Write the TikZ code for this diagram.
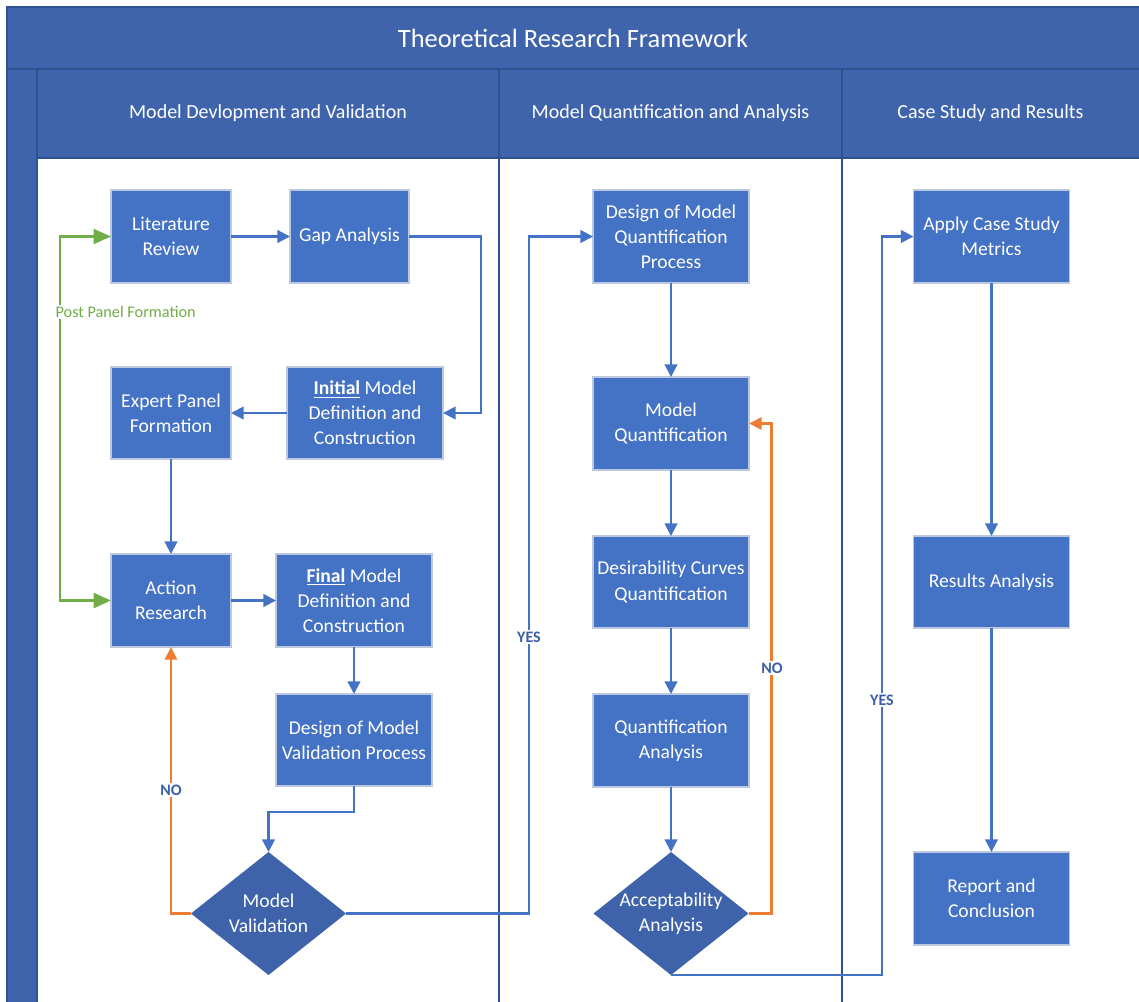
\documentclass[tikz,border=0pt]{standalone}
\usepackage{fontspec}
\setmainfont{Carlito}
\usetikzlibrary{shapes.geometric,arrows.meta}
\definecolor{hdr}{RGB}{63,100,172}
\definecolor{boxfill}{RGB}{68,114,196}
\definecolor{boxline}{RGB}{188,200,224}
\definecolor{frameline}{RGB}{47,82,143}
\definecolor{flowblue}{RGB}{68,114,196}
\definecolor{noorange}{RGB}{237,125,49}
\definecolor{postgreen}{RGB}{112,173,71}
\definecolor{tagblue}{RGB}{58,94,168}
\definecolor{diafill}{RGB}{62,99,170}
\begin{document}
\begin{tikzpicture}[x=0.75pt,y=-0.75pt,
  lanetitle/.style={text=white,font=\fontsize{19.8}{24}\selectfont},
  lanehead/.style={text=white,font=\fontsize{15}{18}\selectfont},
  stepbox/.style={draw=boxline,line width=0.9pt,fill=boxfill,text=white,
    align=center,inner sep=0pt,outer sep=0pt,
    minimum height=69.75pt,minimum width=117pt,
    font=\fontsize{14.7}{18.8}\selectfont},
  narrow/.style={minimum width=90pt},
  decision/.style={diamond,fill=diafill,inner sep=0pt,outer sep=0pt,
    minimum width=116.25pt,minimum height=92.25pt},
  dtext/.style={text=white,align=center,font=\fontsize{14.7}{18.8}\selectfont},
  flow/.style={draw=flowblue,line width=1.6pt,
    -{Triangle[length=9.5pt,width=9.5pt]}},
  noflow/.style={draw=noorange,line width=2.2pt,
    -{Triangle[length=9.5pt,width=9pt]}},
  postflow/.style={draw=postgreen,line width=2.2pt,
    {Triangle[length=13pt,width=11pt]}-{Triangle[length=13pt,width=11pt]}},
  tag/.style={fill=white,text=tagblue,inner sep=1.5pt,
    font=\fontsize{12}{14}\selectfont\bfseries},
]
\useasboundingbox (0,0) rectangle (1139,1001);
\clip (0,0) rectangle (1139,1001);
\fill[white] (0,0) rectangle (1139,1001);

% pool frame: title band, lane headers, left strip
\fill[hdr] (7,7) rectangle (1150,158);
\fill[hdr] (7,158) rectangle (37,1010);
\draw[frameline,line width=0.8pt] (7,1010) -- (7,7) -- (1150,7);
\draw[frameline,line width=0.8pt] (7,69) -- (1150,69);
\draw[frameline,line width=0.8pt] (37,158) -- (1150,158);
\draw[frameline,line width=0.8pt] (37,69) -- (37,1010);
\draw[frameline,line width=0.8pt] (499,69) -- (499,1010);
\draw[frameline,line width=0.8pt] (842,69) -- (842,1010);

\node[lanetitle] (title) at (573,38) {Theoretical Research Framework};
\node[lanehead] (lane1) at (268,113.5) {Model Devlopment and Validation};
\node[lanehead] (lane2) at (670.5,113.5) {Model Quantification and Analysis};
\node[lanehead] (lane3) at (990.5,113.5) {Case Study and Results};

% lane 1
\node[stepbox,narrow] (lit) at (171,236.5) {Literature\\Review};
\node[stepbox,minimum width=89.25pt] (gap) at (349.5,236.5) {Gap Analysis};
\node[stepbox,narrow,minimum height=69pt] (expert) at (171,413) {Expert Panel\\Formation};
\node[stepbox,minimum height=69pt] (init) at (365,413)
  {\underline{\textbf{Initial}} Model\\Definition and\\Construction};
\node[stepbox,narrow] (action) at (171,600.5) {Action\\Research};
\node[stepbox] (final) at (354,600.5)
  {\underline{\textbf{Final}} Model\\Definition and\\Construction};
\node[stepbox,minimum height=69pt] (dmvp) at (354,740) {Design of Model\\Validation Process};
\node[decision] (mval) at (268.5,913.5) {};
\node[dtext] (mvaltext) at (mval) {Model\\Validation};

% lane 2
\node[stepbox] (dmqp) at (671,236.5) {Design of Model\\Quantification\\Process};
\node[stepbox] (mq) at (671,423.5) {Model\\Quantification};
\node[stepbox,minimum height=69pt] (dcq) at (671,582) {Desirability Curves\\Quantification};
\node[stepbox] (qa) at (671,740.5) {Quantification\\Analysis};
\node[decision] (acc) at (671,913.5) {};
\node[dtext] (acctext) at (acc) {Acceptability\\Analysis};

% lane 3
\node[stepbox] (apply) at (991.5,236.5) {Apply Case Study\\Metrics};
\node[stepbox,minimum height=69pt] (res) at (991.5,582) {Results Analysis};
\node[stepbox] (rep) at (991.5,898.5) {Report and\\Conclusion};

% connectors, lane 1
\draw[flow] (lit) -- (gap);
\draw[flow] (gap.east) -- ++(72,0) |- (init.east);
\draw[flow] (init) -- (expert);
\draw[flow] (expert) -- (action);
\draw[flow] (action) -- (final);
\draw[flow] (final) -- (dmvp);
\draw[flow] (dmvp.south) -- ++(0,26) -| (mval.north);
\draw[noflow] (mval.west) -| (action.south);
\node[tag] (no1) at (171,790) {NO};
\draw[postflow] (action.west) -- ++(-51,0) |- (lit.west);
\node[fill=white,text=postgreen,anchor=west,inner sep=1pt,
  font=\fontsize{12.2}{14}\selectfont] (post) at (54,312) {Post Panel Formation};

% connectors, lane 2
\draw[flow] (mval.east) -- ++(183,0) |- (dmqp.west);
\node[tag] (yes1) at (529,637) {YES};
\draw[flow] (dmqp) -- (mq);
\draw[flow] (mq) -- (dcq);
\draw[flow] (dcq) -- (qa);
\draw[flow] (qa) -- (acc.north);
\draw[noflow] (acc.east) -- ++(23,0) |- (mq.east);
\node[tag] (no2) at (772,668) {NO};

% connectors, lane 3
\draw[flow] (acc.south) -- ++(211,0) |- (apply.west);
\node[tag] (yes2) at (882,700) {YES};
\draw[flow] (apply) -- (res);
\draw[flow] (res) -- (rep);
\end{tikzpicture}
\end{document}
